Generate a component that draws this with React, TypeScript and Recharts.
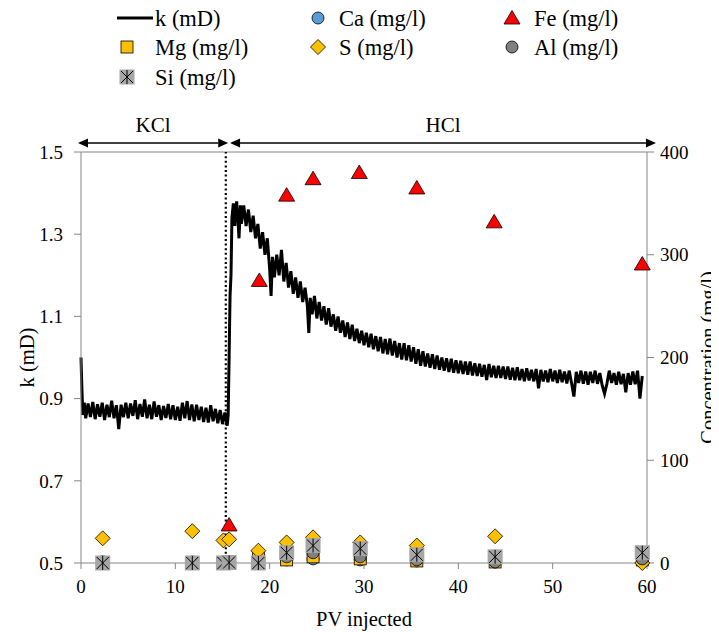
import React from 'react';
import { ComposedChart, Line, Scatter, XAxis, YAxis, ReferenceLine, Label } from 'recharts';

// permeability trace, [PV injected, k (mD)]
const kTrace: [number, number][] = [
  [0, 1.0], [0.1, 0.92], [0.2, 0.86], [0.35, 0.89], [0.5, 0.852], [0.75, 0.888], [1, 0.855], [1.25, 0.892],
  [1.5, 0.85], [1.75, 0.886], [2, 0.856], [2.25, 0.89], [2.5, 0.848], [2.75, 0.885], [3, 0.855], [3.25, 0.895],
  [3.5, 0.852], [3.75, 0.884], [4, 0.826], [4.25, 0.885], [4.5, 0.855], [4.75, 0.89], [5, 0.852], [5.25, 0.888],
  [5.5, 0.858], [5.75, 0.896], [6, 0.85], [6.25, 0.887], [6.5, 0.856], [6.75, 0.898], [7, 0.852], [7.25, 0.885],
  [7.5, 0.85], [7.75, 0.893], [8, 0.856], [8.25, 0.884], [8.5, 0.848], [8.75, 0.882], [9, 0.853], [9.25, 0.887],
  [9.5, 0.85], [9.75, 0.884], [10, 0.848], [10.25, 0.88], [10.5, 0.846], [10.75, 0.89], [11, 0.852], [11.25, 0.894],
  [11.5, 0.848], [11.75, 0.886], [12, 0.845], [12.25, 0.885], [12.5, 0.848], [12.75, 0.88], [13, 0.843], [13.25, 0.878],
  [13.5, 0.842], [13.75, 0.884], [14, 0.845], [14.25, 0.875], [14.5, 0.84], [14.75, 0.872], [15, 0.838], [15.25, 0.866],
  [15.5, 0.834], [15.6, 0.86], [15.7, 1.0], [15.8, 1.15], [15.9, 1.2], [16, 1.34], [16.15, 1.375], [16.3, 1.32],
  [16.5, 1.38], [16.65, 1.33], [16.75, 1.29], [16.9, 1.37], [17, 1.325], [17.25, 1.37], [17.5, 1.32], [17.75, 1.36],
  [18, 1.305], [18.25, 1.345], [18.5, 1.29], [18.75, 1.325], [19, 1.265], [19.25, 1.305], [19.5, 1.25], [19.75, 1.29],
  [20, 1.215], [20.15, 1.15], [20.3, 1.245], [20.5, 1.195], [20.75, 1.25], [21, 1.2], [21.25, 1.262], [21.5, 1.185],
  [21.75, 1.23], [22, 1.17], [22.25, 1.21], [22.5, 1.155], [22.75, 1.195], [23, 1.145], [23.25, 1.185], [23.5, 1.135],
  [23.75, 1.17], [24, 1.125], [24.15, 1.06], [24.3, 1.145], [24.5, 1.105], [24.75, 1.15], [25, 1.095], [25.25, 1.135],
  [25.5, 1.09], [25.75, 1.125], [26, 1.08], [26.25, 1.12], [26.5, 1.075], [26.75, 1.105], [27, 1.065], [27.25, 1.1],
  [27.5, 1.06], [27.75, 1.09], [28, 1.05], [28.25, 1.085], [28.5, 1.045], [28.75, 1.08], [29, 1.04], [29.25, 1.07],
  [29.5, 1.035], [29.75, 1.065], [30, 1.03], [30.25, 1.06], [30.5, 1.025], [30.75, 1.058], [31, 1.02], [31.25, 1.052],
  [31.5, 1.015], [31.75, 1.05], [32, 1.01], [32.25, 1.045], [32.5, 1.008], [32.75, 1.046], [33, 1.005], [33.25, 1.04],
  [33.5, 1.0], [33.75, 1.035], [34, 0.995], [34.25, 1.035], [34.5, 0.993], [34.75, 1.03], [35, 0.99], [35.25, 1.025],
  [35.5, 0.985], [35.75, 1.02], [36, 0.98], [36.25, 1.015], [36.5, 0.978], [36.75, 1.01], [37, 0.975], [37.25, 1.008],
  [37.5, 0.972], [37.75, 1.005], [38, 0.97], [38.25, 1.0], [38.5, 0.968], [38.75, 0.998], [39, 0.965], [39.25, 0.997],
  [39.5, 0.963], [39.75, 0.993], [40, 0.962], [40.25, 0.992], [40.5, 0.96], [40.75, 0.99], [41, 0.958], [41.25, 0.99],
  [41.5, 0.956], [41.75, 0.986], [42, 0.955], [42.25, 0.985], [42.5, 0.953], [42.75, 0.982], [43, 0.945], [43.25, 0.984],
  [43.5, 0.952], [43.75, 0.98], [44, 0.95], [44.25, 0.98], [44.5, 0.95], [44.75, 0.978], [45, 0.948], [45.25, 0.978],
  [45.5, 0.946], [45.75, 0.975], [46, 0.945], [46.25, 0.976], [46.5, 0.945], [46.75, 0.972], [47, 0.942], [47.25, 0.974],
  [47.5, 0.944], [47.75, 0.97], [48, 0.942], [48.25, 0.972], [48.5, 0.925], [48.75, 0.97], [49, 0.942], [49.25, 0.968],
  [49.5, 0.94], [49.75, 0.972], [50, 0.942], [50.25, 0.968], [50.5, 0.938], [50.75, 0.97], [51, 0.94], [51.25, 0.966],
  [51.5, 0.937], [51.75, 0.968], [52, 0.938], [52.25, 0.905], [52.5, 0.965], [52.75, 0.938], [53, 0.968], [53.25, 0.936],
  [53.5, 0.966], [53.75, 0.934], [54, 0.965], [54.25, 0.938], [54.5, 0.968], [54.75, 0.936], [55, 0.962], [55.25, 0.932],
  [55.5, 0.912], [55.75, 0.936], [56, 0.968], [56.25, 0.938], [56.5, 0.962], [56.75, 0.934], [57, 0.965], [57.25, 0.935],
  [57.5, 0.96], [57.75, 0.915], [58, 0.962], [58.25, 0.934], [58.5, 0.966], [58.75, 0.935], [59, 0.968], [59.25, 0.9],
  [59.5, 0.955],
];

// effluent samples, [PV injected, concentration (mg/l)]
const caSamples: [number, number][] = [[2.3, 1], [11.8, 1], [15.1, 1], [15.7, 1], [18.8, 2], [21.8, 3], [24.6, 4], [29.6, 3], [35.6, 2], [43.9, 1], [59.5, 1]];
const feSamples: [number, number][] = [[15.7, 37], [18.9, 275], [21.8, 358], [24.6, 374], [29.5, 380], [35.6, 365], [43.8, 332], [59.5, 291]];
const mgSamples: [number, number][] = [[2.3, 0], [11.8, 0], [15.1, 0], [15.7, 0], [18.8, 6], [21.8, 3], [24.6, 6], [29.6, 4], [35.6, 2], [43.9, 1], [59.5, 3]];
const sSamples: [number, number][] = [[2.3, 24], [11.8, 31], [15.1, 22], [15.7, 23], [18.8, 12], [21.8, 20], [24.6, 25], [29.6, 20], [35.6, 17], [43.9, 26], [59.5, 0]];
const alSamples: [number, number][] = [[2.3, 1], [11.8, 0], [15.1, 0], [15.7, 0], [18.8, 1], [21.8, 6], [24.6, 10], [29.6, 6], [35.6, 3], [43.9, 1], [59.5, 4]];
const siSamples: [number, number][] = [[2.3, 0], [11.8, 0], [15.1, 0], [15.7, 0.5], [18.8, 0], [21.8, 10], [24.6, 17], [29.6, 14], [35.6, 8], [43.9, 6], [59.5, 10]];

const xTicks = [0, 10, 20, 30, 40, 50, 60];
const kTicks = [0.5, 0.7, 0.9, 1.1, 1.3, 1.5];
const concTicks = [0, 100, 200, 300, 400];

const injectionStages = [
  { name: 'KCl', from: -0.32, to: 15.6 },
  { name: 'HCl', from: 15.8, to: 60.95 },
];
const switchPv = 15.35;

const FONT = '"Liberation Serif", "DejaVu Serif", serif';
const AXIS = '#868686';
const YELLOW = '#ffc000';

const kPoints = kTrace.map(([pv, k]) => ({ pv, k }));
const toConc = (s: [number, number][]) => s.map(([pv, c]) => ({ pv, c }));

const Tri = ({ cx, cy }: any) => (
  <polygon points={`${cx},${cy - 7.5} ${cx + 8},${cy + 6} ${cx - 8},${cy + 6}`} fill="#ff0000" stroke="#000" strokeWidth={0.8} />
);
const Sq = ({ cx, cy }: any) => (
  <rect x={cx - 6} y={cy - 6} width={12} height={12} fill={YELLOW} stroke="#000" strokeWidth={0.8} />
);
const Dia = ({ cx, cy }: any) => (
  <polygon points={`${cx},${cy - 7.5} ${cx + 7.5},${cy} ${cx},${cy + 7.5} ${cx - 7.5},${cy}`} fill={YELLOW} stroke="#000" strokeWidth={0.8} />
);
const Circ = ({ cx, cy, fill }: any) => <circle cx={cx} cy={cy} r={6} fill={fill} stroke="#000" strokeWidth={0.8} />;
const SiMark = ({ cx, cy }: any) => (
  <g>
    <rect x={cx - 7.5} y={cy - 7.5} width={15} height={15} fill="#a6a6a6" />
    <path d={`M${cx - 6},${cy - 6}L${cx + 6},${cy + 6}M${cx + 6},${cy - 6}L${cx - 6},${cy + 6}M${cx},${cy - 7}L${cx},${cy + 7}`} stroke="#000" strokeWidth={1} />
  </g>
);

const txt = { fontFamily: FONT, fontSize: 19, fill: '#000' };
const titleTxt = { ...txt, fontSize: 20.5 };
const legendTxt = { ...txt, fontSize: 22.5 };
const stageTxt = { ...txt, fontSize: 21 };

const stageArrow = (name: string) => (p: any) => {
  const { x1, y1, x2 } = p;
  const h = 10;
  return (
    <g>
      <line x1={x1 + h} y1={y1} x2={x2 - h} y2={y1} stroke="#000" strokeWidth={1.5} />
      <polygon points={`${x1},${y1} ${x1 + h},${y1 - 4.5} ${x1 + h},${y1 + 4.5}`} fill="#000" />
      <polygon points={`${x2},${y1} ${x2 - h},${y1 - 4.5} ${x2 - h},${y1 + 4.5}`} fill="#000" />
      <text x={(x1 + x2) / 2} y={y1 - 11} textAnchor="middle" style={stageTxt}>{name}</text>
    </g>
  );
};

const legendRows = [
  [{ name: 'k (mD)', icon: 'line' }, { name: 'Ca (mg/l)', icon: 'ca' }, { name: 'Fe (mg/l)', icon: 'fe' }],
  [{ name: 'Mg (mg/l)', icon: 'mg' }, { name: 'S (mg/l)', icon: 's' }, { name: 'Al (mg/l)', icon: 'al' }],
  [{ name: 'Si (mg/l)', icon: 'si' }],
];
// page coordinates (legend svg is laid over the whole page)
const legendCols = [127, 318, 512];
const legendText = [155, 339, 534];
const legendY = [18, 47, 77];

function LegendIcon({ icon, cx, cy }: { icon: string; cx: number; cy: number }) {
  if (icon === 'line') return <line x1={cx - 10} y1={cy} x2={cx + 26} y2={cy} stroke="#000" strokeWidth={3} />;
  if (icon === 'ca') return <Circ cx={cx} cy={cy} fill="#5b9bd5" />;
  if (icon === 'fe') return <Tri cx={cx} cy={cy} />;
  if (icon === 'mg') return <Sq cx={cx} cy={cy} />;
  if (icon === 's') return <Dia cx={cx} cy={cy} />;
  if (icon === 'al') return <Circ cx={cx} cy={cy} fill="#7f7f7f" />;
  return <SiMark cx={cx} cy={cy} />;
}

function ChartLegend() {
  return (
    <svg width={719} height={100} style={{ position: 'absolute', left: -8, top: -8 }}>
      {legendRows.map((row, r) =>
        row.map((item, c) => (
          <g key={item.name}>
            <LegendIcon icon={item.icon} cx={legendCols[c]} cy={legendY[r]} />
            <text x={legendText[c]} y={legendY[r]} dominantBaseline="central" style={legendTxt}>
              {item.name}
            </text>
          </g>
        ))
      )}
    </svg>
  );
}

export default function App() {
  return (
    <div style={{ position: 'relative', width: 711, height: 624 }}>
      <style>{'html,body{overflow:hidden}'}</style>
      <ComposedChart width={711} height={624} margin={{ top: 144, right: 12, bottom: 9, left: 11 }}>
        <XAxis
          type="number"
          dataKey="pv"
          domain={[0, 60]}
          ticks={xTicks}
          height={60}
          tick={txt}
          tickSize={6}
          tickMargin={11}
          stroke={AXIS}
          tickLine={{ stroke: AXIS }}
        >
          <Label
            content={({ viewBox }: any) => (
              <text x={viewBox.x + viewBox.width / 2} y={viewBox.y + 63} textAnchor="middle" style={titleTxt}>
                PV injected
              </text>
            )}
          />
        </XAxis>
        <YAxis
          yAxisId="k"
          orientation="left"
          domain={[0.5, 1.5]}
          ticks={kTicks}
          width={62}
          tick={txt}
          tickFormatter={(v: number) => v.toFixed(1)}
          tickSize={7}
          tickMargin={11}
          stroke={AXIS}
          tickLine={{ stroke: AXIS }}
        >
          <Label
            content={({ viewBox }: any) => {
              const x = viewBox.x + 8;
              const y = viewBox.y + viewBox.height / 2;
              return (
                <text x={x} y={y} transform={`rotate(-90 ${x} ${y})`} textAnchor="middle" dominantBaseline="central" style={titleTxt}>
                  k (mD)
                </text>
              );
            }}
          />
        </YAxis>
        <YAxis
          yAxisId="c"
          orientation="right"
          domain={[0, 400]}
          ticks={concTicks}
          width={60}
          tick={txt}
          tickSize={7}
          tickMargin={6}
          stroke={AXIS}
          tickLine={{ stroke: AXIS }}
        >
          <Label
            content={({ viewBox }: any) => {
              const x = viewBox.x + viewBox.width + 1;
              const y = viewBox.y + viewBox.height / 2;
              return (
                <text x={x} y={y} transform={`rotate(-90 ${x} ${y})`} textAnchor="middle" dominantBaseline="central" style={titleTxt}>
                  Concentration (mg/l)
                </text>
              );
            }}
          />
        </YAxis>

        <ReferenceLine yAxisId="k" y={1.5} stroke={AXIS} strokeWidth={1} />
        <ReferenceLine yAxisId="k" x={switchPv} stroke="#000" strokeWidth={2.2} strokeDasharray="2 2.6" />
        {injectionStages.map((s) => (
          <ReferenceLine
            key={s.name}
            yAxisId="k"
            ifOverflow="visible"
            segment={[{ x: s.from, y: 1.522 }, { x: s.to, y: 1.522 }]}
            shape={stageArrow(s.name)}
          />
        ))}

        <Line yAxisId="k" data={kPoints} dataKey="k" type="linear" stroke="#000" strokeWidth={3} dot={false} isAnimationActive={false} />
        <Scatter yAxisId="c" data={toConc(caSamples)} dataKey="c" shape={(p: any) => <Circ cx={p.cx} cy={p.cy} fill="#5b9bd5" />} isAnimationActive={false} />
        <Scatter yAxisId="c" data={toConc(feSamples)} dataKey="c" shape={(p: any) => <Tri cx={p.cx} cy={p.cy} />} isAnimationActive={false} />
        <Scatter yAxisId="c" data={toConc(mgSamples)} dataKey="c" shape={(p: any) => <Sq cx={p.cx} cy={p.cy} />} isAnimationActive={false} />
        <Scatter yAxisId="c" data={toConc(sSamples)} dataKey="c" shape={(p: any) => <Dia cx={p.cx} cy={p.cy} />} isAnimationActive={false} />
        <Scatter yAxisId="c" data={toConc(alSamples)} dataKey="c" shape={(p: any) => <Circ cx={p.cx} cy={p.cy} fill="#7f7f7f" />} isAnimationActive={false} />
        <Scatter yAxisId="c" data={toConc(siSamples)} dataKey="c" shape={(p: any) => <SiMark cx={p.cx} cy={p.cy} />} isAnimationActive={false} />
      </ComposedChart>
      <ChartLegend />
    </div>
  );
}
